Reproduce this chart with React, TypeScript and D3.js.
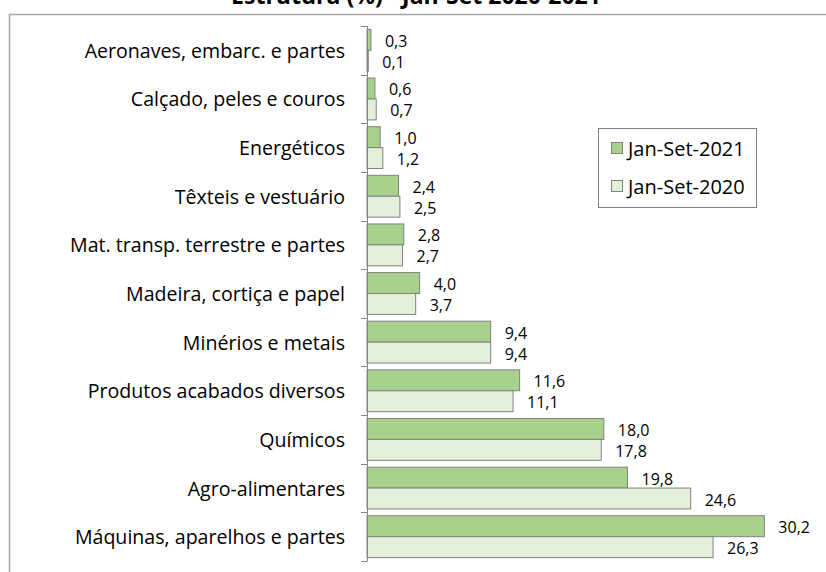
import React from "react";
import * as d3 from "d3";

const categories = [
  "Aeronaves, embarc. e partes",
  "Calçado, peles e couros",
  "Energéticos",
  "Têxteis e vestuário",
  "Mat. transp. terrestre e partes",
  "Madeira, cortiça e papel",
  "Minérios e metais",
  "Produtos acabados diversos",
  "Químicos",
  "Agro-alimentares",
  "Máquinas, aparelhos e partes",
];
const values2021 = [0.3, 0.6, 1.0, 2.4, 2.8, 4.0, 9.4, 11.6, 18.0, 19.8, 30.2];
const values2020 = [0.1, 0.7, 1.2, 2.5, 2.7, 3.7, 9.4, 11.1, 17.8, 24.6, 26.3];
const seriesNames = ["Jan-Set-2021", "Jan-Set-2020"];
const title = "Estrutura (%) - Jan-Set 2020-2021";

const W = 826;
const H = 572;
const FONT = "'Open Sans', Lato, sans-serif";
const C2021 = "#a9d18e";
const C2020 = "#e2f0d9";
const STROKE = "#808080";

export default function App() {
  const x = d3.scaleLinear().domain([0, 35]).range([367, 827.5]);
  const y = d3.scaleBand<string>().domain(categories).range([26, 561]).paddingInner(0.14).paddingOuter(0.07);
  const sub = d3.scaleBand<number>().domain([0, 1]).range([0, y.bandwidth()]);
  const step = y.step();
  const fmt = (v: number) => v.toFixed(1).replace(".", ",");
  const series = [values2021, values2020];
  const colors = [C2021, C2020];

  return (
    <svg width={W} height={H} style={{ position: "absolute", left: 0, top: 0, background: "#fff" }}>
      <text x={416} y={4} textAnchor="middle" fontFamily={FONT} fontWeight="bold" fontSize={23} fill="#000">
        {title}
      </text>
      <line x1={9} x2={W} y1={14.5} y2={14.5} stroke="#a6a6a6" strokeWidth={1.5} />
      <line x1={9.5} x2={9.5} y1={14} y2={H} stroke="#a6a6a6" strokeWidth={1.5} />

      {categories.map((c, i) => {
        const y0 = y(c)!;
        return (
          <g key={c}>
            {series.map((s, j) => {
              const v = s[i];
              const by = y0 + sub(j)!;
              const bh = sub.bandwidth();
              return (
                <g key={j}>
                  <rect x={x(0)} y={by} width={Math.max(0, x(v) - x(0))} height={bh} fill={colors[j]} stroke={STROKE} strokeWidth={1} />
                  <text x={x(v) + 14} y={by + bh / 2 + 1} dominantBaseline="central" fontFamily={FONT} fontSize={16} fill="#000">
                    {fmt(v)}
                  </text>
                </g>
              );
            })}
            <text x={345} y={y0 + y.bandwidth() / 2} textAnchor="end" dominantBaseline="central" fontFamily={FONT} fontSize={19.6} fill="#000">
              {c}
            </text>
          </g>
        );
      })}

      {d3.range(categories.length + 1).map((k) => {
        const ty = Math.round(26 + k * step) + 0.5;
        return <line key={k} x1={361} x2={367} y1={ty} y2={ty} stroke="#868686" strokeWidth={1} />;
      })}
      <line x1={367.5} x2={367.5} y1={26} y2={561.5} stroke="#868686" strokeWidth={1} />

      <rect x={598.5} y={128.5} width={158} height={79} fill="#fff" stroke="#808080" strokeWidth={1} />
      {seriesNames.map((n, j) => (
        <g key={n}>
          <rect x={611.5} y={142.5 + j * 38} width={11} height={11} fill={colors[j]} stroke={STROKE} strokeWidth={1} />
          <text x={628} y={148 + j * 38} dominantBaseline="central" fontFamily={FONT} fontSize={20} fill="#000">
            {n}
          </text>
        </g>
      ))}
    </svg>
  );
}
